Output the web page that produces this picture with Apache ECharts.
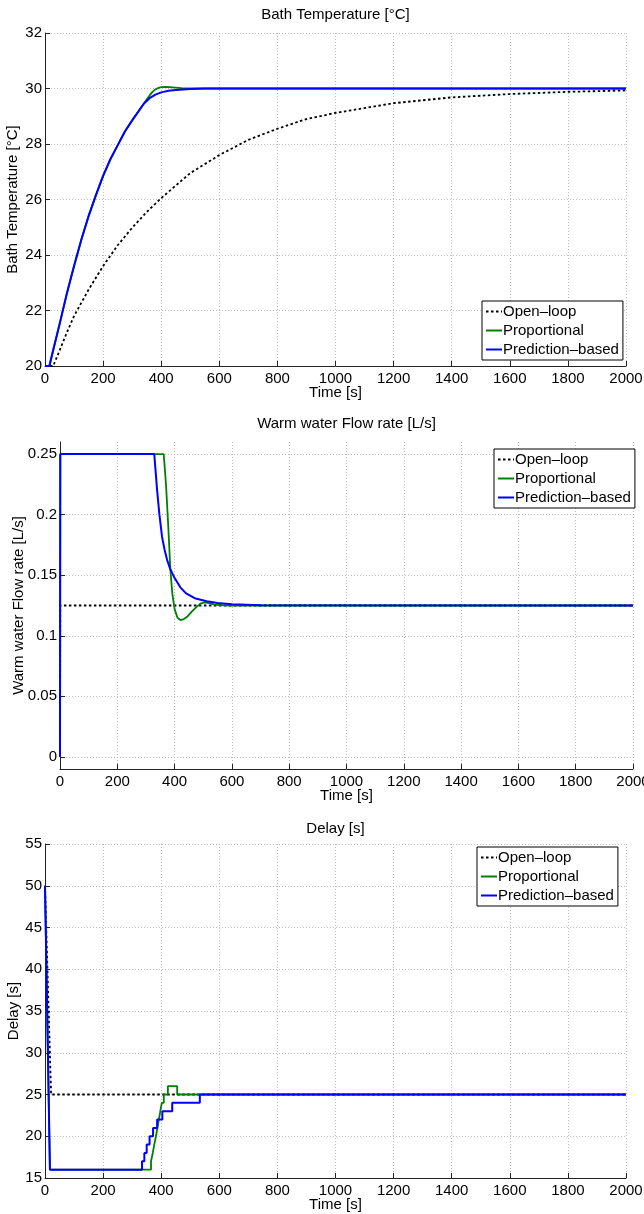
<!DOCTYPE html>
<html><head><meta charset="utf-8">
<script src="https://cdn.jsdelivr.net/npm/echarts@6/dist/echarts.min.js"></script>
<style>html,body{margin:0;padding:0;background:#fff}#c{width:644px;height:1214px}</style>
</head><body><div id="c"></div>
<script>
// ---------- Data ----------
const seriesNames = ['Open\u2013loop', 'Proportional', 'Prediction\u2013based'];
const titles = ['Bath Temperature [\u00B0C]', 'Warm water Flow rate [L/s]', 'Delay [s]'];
const yNames = ['Bath Temperature [\u00B0C]', 'Warm water Flow rate [L/s]', 'Delay [s]'];
const xName = 'Time [s]';
const flowTicks = [0, 0.05, 0.1, 0.15, 0.2, 0.25];

// Plot 1: bath temperature
const tempOpenT = [0, 28, 50, 75, 100, 150, 200, 250, 300, 350, 400, 500, 600, 700, 800, 900, 1000, 1200, 1400, 1600, 1800, 2000];
const tempOpenV = [20, 20, 20.55, 21.2, 21.8, 22.75, 23.6, 24.35, 24.98, 25.55, 26.05, 26.95, 27.6, 28.15, 28.55, 28.9, 29.12, 29.47, 29.68, 29.8, 29.88, 29.93];
const tempPredT = [0, 15, 30, 50, 75, 100, 125, 150, 175, 200, 225, 250, 275, 300, 320, 340, 360, 380, 400, 425, 450, 500, 550, 600, 2000];
const tempPredV = [20, 20, 20.65, 21.5, 22.6, 23.6, 24.55, 25.4, 26.15, 26.85, 27.45, 27.95, 28.45, 28.85, 29.15, 29.45, 29.65, 29.78, 29.86, 29.92, 29.95, 29.985, 29.997, 30, 30];
const tempPropT = [0, 15, 30, 50, 75, 100, 125, 150, 175, 200, 225, 250, 275, 300, 320, 340, 350, 360, 370, 380, 390, 400, 415, 430, 450, 470, 490, 2000];
const tempPropV = [20, 20, 20.65, 21.5, 22.6, 23.6, 24.55, 25.4, 26.15, 26.85, 27.45, 27.95, 28.45, 28.85, 29.15, 29.45, 29.6, 29.75, 29.88, 29.97, 30.02, 30.05, 30.06, 30.05, 30.03, 30.01, 30.0, 30.0];

// Plot 2: warm water flow rate
const flowOpenT = [0, 1, 2000];
const flowOpenV = [0, 0.125, 0.125];
const flowPropT = [0, 1, 362, 370, 378, 385, 392, 400, 410, 420, 430, 445, 460, 475, 490, 505, 520, 540, 570, 600, 2000];
const flowPropV = [0, 0.25, 0.25, 0.225, 0.19, 0.155, 0.135, 0.122, 0.115, 0.113, 0.1135, 0.116, 0.12, 0.1235, 0.1265, 0.1275, 0.127, 0.1258, 0.1252, 0.125, 0.125];
const flowPredT = [0, 1, 329, 334, 339, 347, 356, 365, 374, 385, 397, 420, 440, 470, 512, 550, 600, 700, 2000];
const flowPredV = [0, 0.25, 0.25, 0.235, 0.22, 0.2, 0.182, 0.171, 0.1625, 0.155, 0.149, 0.14, 0.135, 0.131, 0.1285, 0.127, 0.126, 0.1252, 0.125];

// Plot 3: delay
const delayOpenT = [0, 21, 2000];
const delayOpenV = [50, 25, 25];
const delayStart = [[0, 50], [17, 16]];
const delayPropStepT = [365, 371, 376, 382, 387, 392, 397, 402, 409, 423, 455];
const delayPropStepV = [17, 18, 19, 20, 21, 22, 23, 24, 25, 26, 25];
const delayPredStepT = [334, 342, 350, 360, 372, 386, 404, 438, 533];
const delayPredStepV = [17, 18, 19, 20, 21, 22, 23, 24, 25];
const tEnd = 2000;

// ---------- Helpers ----------
const zip = (t, v) => t.map((x, i) => [x, v[i]]);
function stairs(start, stepT, stepV, end) {
  const pts = start.slice();
  let cur = start[start.length - 1][1];
  stepT.forEach((t, i) => { pts.push([t, cur]); cur = stepV[i]; pts.push([t, cur]); });
  pts.push([end, cur]);
  return pts;
}

const FONT = "'Liberation Sans', Arial, sans-serif";
const FS = 15;
const txt = { fontFamily: FONT, fontSize: FS, color: '#000' };
const gridDefs = [
  { left: 45, top: 33, width: 581, height: 333, containLabel: false, outerBoundsMode: 'none' },
  { left: 60, top: 442, width: 573, height: 327, containLabel: false, outerBoundsMode: 'none' },
  { left: 45, top: 844, width: 581, height: 334, containLabel: false, outerBoundsMode: 'none' }
];
const legendPos = [
  { left: 482, top: 301 },
  { left: 494, top: 449 },
  { left: 477, top: 847 }
];
const splitLine = { show: true, lineStyle: { color: '#bcbcbc', width: 1, type: [1, 2] } };
const axisLine = { show: true, onZero: false, lineStyle: { color: '#222', width: 1 } };
const axisTick = { show: true, inside: true, length: 5, lineStyle: { color: '#222' } };
const plain = v => String(v);

const xAxes = gridDefs.map((g, i) => ({
  type: 'value', gridIndex: i, min: 0, max: 2000, interval: 200,
  name: xName, nameLocation: 'middle', nameGap: 19, nameMoveOverlap: false, nameTextStyle: txt,
  axisLine, axisTick, splitLine,
  axisLabel: Object.assign({ margin: 5, formatter: plain, hideOverlap: false }, txt)
}));
const yNameGaps = [25, 34, 24];
const yAxes = [
  { type: 'value', gridIndex: 0, min: 20, max: 32, interval: 2,
    axisLine, axisTick, splitLine, axisLabel: Object.assign({ margin: 3, formatter: plain }, txt) },
  { type: 'value', gridIndex: 1, min: -0.01, max: 0.26,
    axisLine, axisTick: Object.assign({ customValues: flowTicks }, axisTick), splitLine,
    axisLabel: Object.assign({ margin: 3, customValues: flowTicks, formatter: plain }, txt) },
  { type: 'value', gridIndex: 2, min: 15, max: 55, interval: 5,
    axisLine, axisTick, splitLine, axisLabel: Object.assign({ margin: 3, formatter: plain }, txt) }
].map((a, i) => Object.assign(a, { name: yNames[i], nameLocation: 'middle', nameGap: yNameGaps[i], nameMoveOverlap: false, nameTextStyle: txt }));

const styles = [
  { color: '#000', lineStyle: { color: '#000', width: 1.8, type: [2.5, 2.5] } },
  { color: '#008000', lineStyle: { color: '#008000', width: 1.8 } },
  { color: '#0000ff', lineStyle: { color: '#0000ff', width: 2 } }
];
function mk(idx, nameIdx, data) {
  return Object.assign({ type: 'line', name: seriesNames[nameIdx], xAxisIndex: idx, yAxisIndex: idx,
    data, showSymbol: false, symbol: 'none', animation: false, clip: true, z: 2 + nameIdx }, styles[nameIdx]);
}
const series = [
  mk(0, 0, zip(tempOpenT, tempOpenV)), mk(0, 1, zip(tempPropT, tempPropV)), mk(0, 2, zip(tempPredT, tempPredV)),
  mk(1, 0, zip(flowOpenT, flowOpenV)), mk(1, 1, zip(flowPropT, flowPropV)), mk(1, 2, zip(flowPredT, flowPredV)),
  mk(2, 0, zip(delayOpenT, delayOpenV)), mk(2, 1, stairs(delayStart, delayPropStepT, delayPropStepV, tEnd)),
  mk(2, 2, stairs(delayStart, delayPredStepT, delayPredStepV, tEnd))
];

const titleTops = [7, 416, 821];
const chart = echarts.init(document.getElementById('c'), null, { renderer: 'canvas' });
chart.setOption({
  animation: false,
  backgroundColor: '#fff',
  title: gridDefs.map((g, i) => ({ text: titles[i], left: g.left + g.width / 2, top: titleTops[i], textAlign: 'center', padding: 0,
    textStyle: Object.assign({ fontWeight: 'normal' }, txt) })),
  grid: gridDefs,
  xAxis: xAxes,
  yAxis: yAxes,
  legend: legendPos.map(p => ({
    data: seriesNames, orient: 'vertical', left: p.left, top: p.top,
    backgroundColor: '#fff', borderColor: '#000', borderWidth: 1, padding: [2, 4, 2, 3],
    itemWidth: 16, itemHeight: 2, itemGap: 2, selectedMode: false,
    itemStyle: { opacity: 0, borderWidth: 0 },
    textStyle: Object.assign({ padding: [0, 0, 0, -4], lineHeight: 17 }, txt)
  })),
  series
});
</script></body></html>
